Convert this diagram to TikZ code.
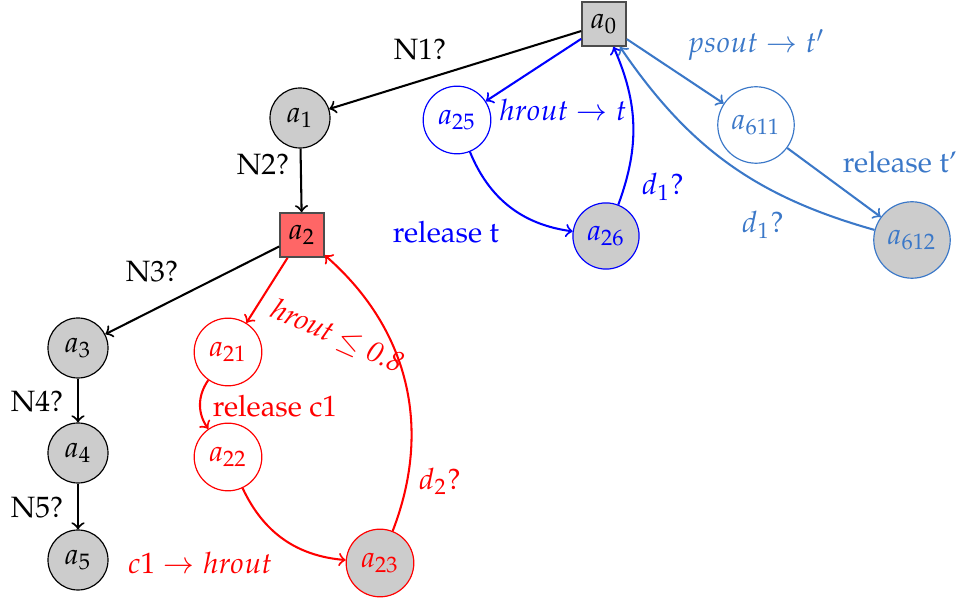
\documentclass[tikz,border=0pt]{standalone}
\usepackage[T1]{fontenc}
\usepackage{mathpazo}
\definecolor{sblue}{RGB}{59,120,200}
\definecolor{boxred}{RGB}{255,102,102}
\begin{document}
\begin{tikzpicture}[x=0.34pt,y=-0.34pt,
  st/.style={circle,draw,line width=0.4pt,inner sep=0pt,minimum size=20.4pt},
  gst/.style={st,fill=black!20},
  sq/.style={rectangle,draw=black!70,line width=0.5pt,inner sep=0pt,minimum size=15pt},
  edge/.style={->,line width=0.7pt},
  lbl/.style={inner sep=0pt}]
\useasboundingbox (0,0) rectangle (959,602);
% nodes
\node[sq,fill=black!20] (a0) at (604,24) {$a_0$};
\node[gst] (a1) at (300,118) {$a_1$};
\node[sq,fill=boxred] (a2) at (302,235) {$a_2$};
\node[gst] (a3) at (78,348) {$a_3$};
\node[gst] (a4) at (78,453) {$a_4$};
\node[gst] (a5) at (78,560) {$a_5$};
\node[st,draw=red,text=red,minimum size=23pt] (a21) at (228,352) {$a_{21}$};
\node[st,draw=red,text=red,minimum size=23pt] (a22) at (228,457) {$a_{22}$};
\node[gst,draw=red,text=red,minimum size=23pt] (a23) at (380,563) {$a_{23}$};
\node[st,draw=blue,text=blue,minimum size=23pt] (a25) at (457,120) {$a_{25}$};
\node[gst,draw=blue,text=blue,minimum size=22.5pt] (a26) at (606,236) {$a_{26}$};
\node[st,draw=sblue,text=sblue,minimum size=26pt] (a611) at (756,125) {$a_{611}$};
\node[gst,draw=sblue,text=sblue,minimum size=26pt] (a612) at (912,240) {$a_{612}$};
% black edges
\draw[edge] (a0) -- (a1);
\draw[edge] (a1) -- (a2);
\draw[edge] (a2) -- (a3);
\draw[edge] (a3) -- (a4);
\draw[edge] (a4) -- (a5);
\node[lbl] (l1) at (420,50) {N1?};
\node[lbl] (l2) at (263,165) {N2?};
\node[lbl] (l3) at (152,272) {N3?};
\node[lbl] (l4) at (37,402) {N4?};
\node[lbl] (l5) at (37,508) {N5?};
% blue edges
\draw[edge,blue] (a0) -- (a25);
\draw[edge,blue] (a25) to[bend right=30] (a26);
\draw[edge,blue] (a26) to[bend right=22] (a0);
\node[lbl,text=blue] (lb1) at (563,110) {$hrout \rightarrow t$};
\node[lbl,text=blue] (lb2) at (446,232) {release t};
\node[lbl,text=blue] (lb3) at (663,187) {$d_1?$};
% steel blue edges
\draw[edge,sblue] (a0) -- (a611);
\draw[edge,sblue] (a611) -- (a612);
\draw[edge,sblue] (a612) to[bend left=20] (a0);
\node[lbl,text=sblue] (ls1) at (756,45) {$psout \rightarrow t'$};
\node[lbl,text=sblue] (ls2) at (900,162) {release t'};
\node[lbl,text=sblue] (ls3) at (763,225) {$d_1?$};
% red edges
\draw[edge,red] (a2) -- (a21);
\draw[edge,red] (a21) to[bend right=35] (a22);
\draw[edge,red] (a22) to[bend right=30] (a23);
\draw[edge,red] (a23) to[bend right=35] (a2);
\node[lbl,text=red,rotate=-24] (lr1) at (337,337) {\textit{hrout} $\leq$ \textit{0.8}};
\node[lbl,text=red] (lr2) at (275,406) {release c1};
\node[lbl,text=red] (lr3) at (200,563) {$c1 \rightarrow hrout$};
\node[lbl,text=red] (lr4) at (440,481) {$d_2?$};
\end{tikzpicture}
\end{document}
